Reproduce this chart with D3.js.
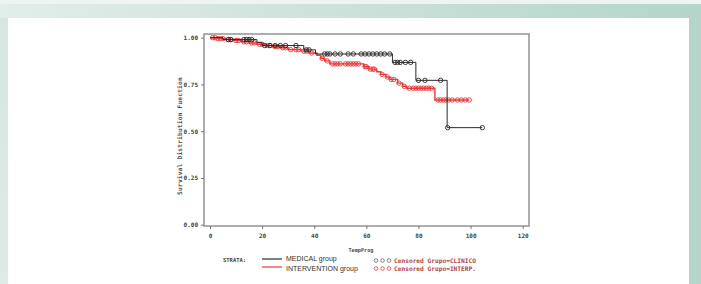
<!DOCTYPE html>
<html>
<head>
<meta charset="utf-8">
<script src="https://cdn.jsdelivr.net/npm/d3@7"></script>
<style>
  html, body { margin: 0; padding: 0; }
  body { width: 701px; height: 284px; overflow: hidden; }
</style>
</head>
<body>
<svg id="chart" width="701" height="284"></svg>
<script>
// Kaplan-Meier steps: time of each drop and survival after it
const medicalTimes = [0, 5, 18, 20, 36, 40.5, 70, 79, 91];
const medicalSurv  = [1.0, 0.99, 0.975, 0.958, 0.935, 0.913, 0.868, 0.772, 0.519];
const medicalEnd = 104.5;
const medicalCensored = [7, 8, 13, 14, 15, 16, 21, 23, 25, 27, 29, 33, 37, 38,
  44, 45, 46, 48, 50, 53, 55, 58, 59.5, 61, 62.5, 64, 65.5, 67, 69,
  71, 72, 73, 75, 77, 80, 82.5, 88.5, 91.2, 104.5];

const interTimes = [0, 3, 6, 9, 12, 15, 18, 21, 24, 27, 30, 35, 38, 41, 42.5, 44, 46,
  59, 61, 64, 65.5, 67.5, 69, 72, 74, 75.5, 86.3];
const interSurv  = [1.0, 0.995, 0.99, 0.985, 0.978, 0.972, 0.965, 0.958, 0.952, 0.946,
  0.936, 0.928, 0.918, 0.906, 0.89, 0.876, 0.86, 0.845, 0.832, 0.818, 0.804, 0.79,
  0.777, 0.757, 0.74, 0.73, 0.667];
const interEnd = 99.5;
const interCensored = [1, 2, 3, 4, 5, 7, 8, 10, 11, 13, 14, 16, 17, 19, 20, 22, 23, 25,
  26, 28, 29, 31, 33, 34, 36, 37, 39, 43, 45, 47, 48, 49, 50, 52, 53, 54, 55, 56, 57,
  59.5, 60, 61.5, 62.5, 63, 66, 68, 69.5, 70.5, 72.5, 74.5, 76.5, 78, 79, 80, 81, 82,
  83, 84, 85, 87.5, 88.5, 89.5, 90.5, 91.5, 93, 95, 96.5, 98, 99.5];

const xTicks = [0, 20, 40, 60, 80, 100, 120];
const yTicks = [0, 0.25, 0.5, 0.75, 1.0];

const black = "#2a2a2a";
const red = "#e8393a";

const svg = d3.select("#chart");

// page background like the source figure
const defs = svg.append("defs");
const grad = defs.append("linearGradient").attr("id", "band");
grad.append("stop").attr("offset", "0%").attr("stop-color", "#e3ede9");
grad.append("stop").attr("offset", "100%").attr("stop-color", "#b3d5ca");
const sideGrad = defs.append("linearGradient").attr("id", "side")
  .attr("x1", 0).attr("y1", 0).attr("x2", 0).attr("y2", 1);
sideGrad.append("stop").attr("offset", "0%").attr("stop-color", "#d6e6e0");
sideGrad.append("stop").attr("offset", "100%").attr("stop-color", "#dfeae6");

svg.append("rect").attr("width", 701).attr("height", 284).attr("fill", "url(#side)");
svg.append("rect").attr("x", 0).attr("y", 4).attr("width", 701).attr("height", 14).attr("fill", "url(#band)");
svg.append("rect").attr("x", 0).attr("y", 0).attr("width", 701).attr("height", 4).attr("fill", "#eef4f2");
svg.append("rect").attr("x", 689).attr("y", 4).attr("width", 12).attr("height", 280).attr("fill", "#b3d5ca");
svg.append("rect").attr("x", 8).attr("y", 18).attr("width", 681).attr("height", 266).attr("fill", "#ffffff");

const x = d3.scaleLinear().domain([0, 120]).range([210, 522.7]);
const y = d3.scaleLinear().domain([0, 1]).range([224.7, 37.7]);

const frame = { left: 204, right: 529, top: 34, bottom: 226 };

svg.append("rect")
  .attr("x", frame.left).attr("y", frame.top)
  .attr("width", frame.right - frame.left)
  .attr("height", frame.bottom - frame.top)
  .attr("fill", "none").attr("stroke", "#8c8c8c").attr("stroke-width", 1.4);

const monoFont = "'DejaVu Sans Mono', monospace";

const xAxis = svg.append("g")
  .attr("transform", `translate(0,${frame.bottom})`)
  .call(d3.axisBottom(x).tickValues(xTicks).tickSize(3).tickPadding(5).tickFormat(d3.format("d")));
xAxis.select(".domain").remove();

const yAxis = svg.append("g")
  .attr("transform", `translate(${frame.left},0)`)
  .call(d3.axisLeft(y).tickValues(yTicks).tickSize(3).tickPadding(3).tickFormat(d3.format(".2f")));
yAxis.select(".domain").remove();

svg.selectAll(".tick line").attr("stroke", "#777").attr("stroke-width", 1);
svg.selectAll(".tick text")
  .attr("font-family", monoFont).attr("font-size", 6).attr("font-weight", "bold")
  .attr("fill", "#444");

// axis titles
svg.append("text")
  .attr("transform", "translate(182,136) rotate(-90)")
  .attr("text-anchor", "middle")
  .attr("font-family", monoFont).attr("font-size", 6.2).attr("font-weight", "bold")
  .attr("letter-spacing", 0.2).attr("fill", "#555")
  .text("Survival Distribution Function");

svg.append("text")
  .attr("x", 361).attr("y", 252)
  .attr("text-anchor", "middle")
  .attr("font-family", monoFont).attr("font-size", 5.2).attr("font-weight", "bold")
  .attr("fill", "#444")
  .text("TempProg");

const line = d3.line()
  .x(d => x(d[0]))
  .y(d => y(d[1]))
  .curve(d3.curveStepAfter);

function stepPoints(times, surv, end) {
  const pts = times.map((t, i) => [t, surv[i]]);
  pts.push([end, surv[surv.length - 1]]);
  return pts;
}

function survAt(times, surv, t) {
  const i = d3.bisectRight(times, t) - 1;
  return surv[Math.max(0, i)];
}

const groups = [
  { times: interTimes, surv: interSurv, end: interEnd, censored: interCensored, color: red, width: 1.4 },
  { times: medicalTimes, surv: medicalSurv, end: medicalEnd, censored: medicalCensored, color: black, width: 1 }
];

groups.forEach(g => {
  svg.append("path")
    .datum(stepPoints(g.times, g.surv, g.end))
    .attr("fill", "none")
    .attr("stroke", g.color)
    .attr("stroke-width", g.width)
    .attr("d", line);

  svg.append("g")
    .selectAll("circle")
    .data(g.censored)
    .join("circle")
    .attr("cx", d => x(d))
    .attr("cy", d => y(survAt(g.times, g.surv, d)))
    .attr("r", 2.2)
    .attr("fill", "none")
    .attr("stroke", g.color)
    .attr("stroke-width", 0.9);
});

// legend
const legend = svg.append("g");
legend.append("text")
  .attr("x", 223).attr("y", 262)
  .attr("font-family", monoFont).attr("font-size", 5.5).attr("font-weight", "bold")
  .attr("fill", "#444").text("STRATA:");

const legendItems = [
  { label: "MEDICAL group", color: black, cens: "Censored Grupo=CLINICO", y: 259 },
  { label: "INTERVENTION group", color: red, cens: "Censored Grupo=INTERP.", y: 267 }
];

legendItems.forEach((d, i) => {
  legend.append("line")
    .attr("x1", 262).attr("x2", 282)
    .attr("y1", d.y).attr("y2", d.y)
    .attr("stroke", d.color).attr("stroke-width", 1.2);
  legend.append("text")
    .attr("x", 286).attr("y", d.y + 2 + i * 2)
    .attr("font-family", "'Liberation Sans', Arial, sans-serif")
    .attr("font-size", 7).attr("fill", "#333")
    .text(d.label);
  [376, 382.5, 389].forEach(cx => {
    legend.append("circle")
      .attr("cx", cx).attr("cy", d.y + 1.5)
      .attr("r", 1.8)
      .attr("fill", "none").attr("stroke", i === 0 ? "#666" : red).attr("stroke-width", 0.8);
  });
  legend.append("text")
    .attr("x", 394).attr("y", d.y + 3.5)
    .attr("font-family", monoFont).attr("font-size", 6.2).attr("font-weight", "bold")
    .attr("fill", "#b04545")
    .text(d.cens);
});
</script>
</body>
</html>
